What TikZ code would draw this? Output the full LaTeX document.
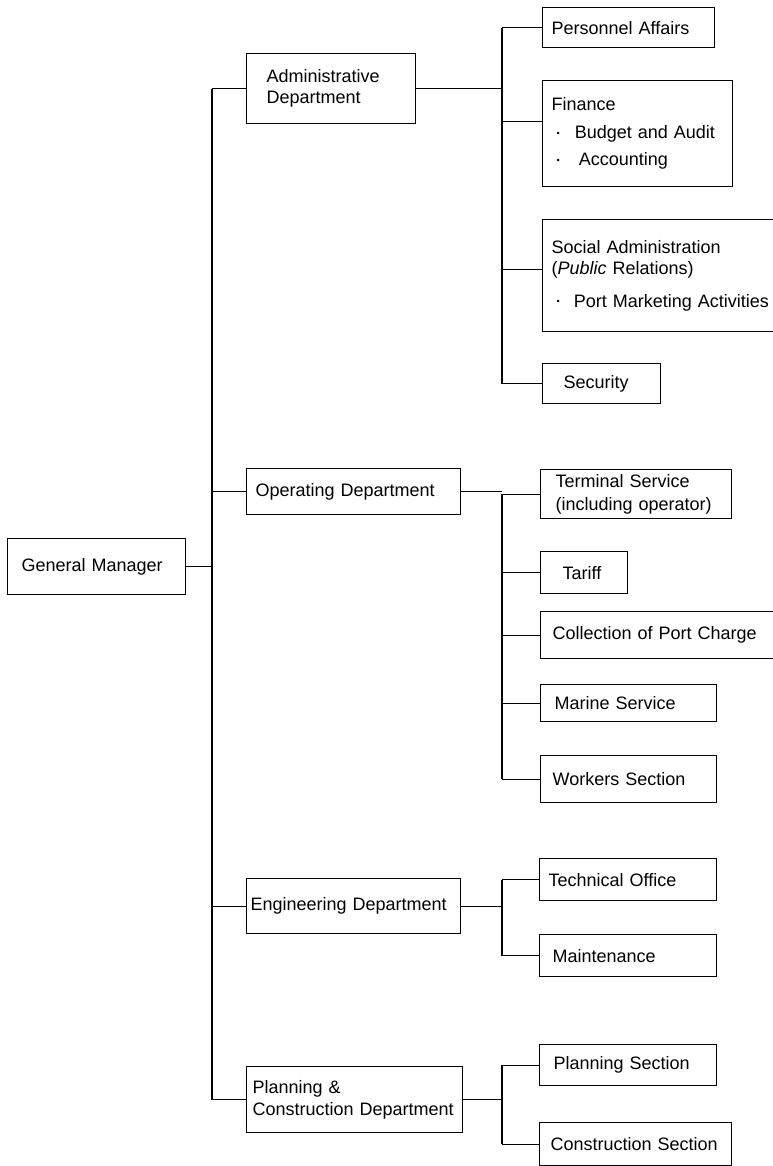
\documentclass[tikz,border=0pt]{standalone}
\usepackage{fontspec}
\setmainfont{Liberation Sans}
\usetikzlibrary{positioning,calc}
\newcommand{\itemdot}{\raisebox{2.5pt}{\fontsize{9}{9}\selectfont\textbullet}}

\begin{document}
\begin{tikzpicture}[x=1pt, y=-1pt, line width=1.2pt,
    block/.style={rectangle, draw, anchor=north west, align=left, inner ysep=2pt, font=\fontsize{18}{21}\selectfont}]
    \useasboundingbox (0,0) rectangle (772,1166);
    \fill[white] (0,0) rectangle (772,1166);

    \node [block, inner xsep=14pt, text width=150pt, minimum height=56pt] (manager) at (7,538) {General Manager};

    \node [block, inner xsep=20pt, text width=129pt, minimum height=70pt] (admin) at (246,53) {Administrative\\Department};
    \node [block, inner xsep=9pt, text width=196pt, minimum height=46pt] (operating) at (246,468) {Operating Department};
    \node [block, inner xsep=4pt, text width=206pt, minimum height=55pt] (engineering) at (246,878) {Engineering Department};
    \node [block, inner xsep=6pt, text width=204pt, minimum height=66pt] (planning) at (246,1066) {Planning \&\\[1pt]Construction Department};

    \node [block, inner xsep=9pt, text width=154pt, minimum height=40pt] (personnel) at (542,7) {Personnel Affairs};
    \node [block, inner xsep=9pt, text width=172pt, minimum height=106pt] (finance) at (542,80) {Finance\\[7pt]\hspace*{5pt}\itemdot\hspace{15pt}Budget and Audit\\[6pt]\hspace*{5pt}\itemdot\hspace{19pt}Accounting};
    \node [block, inner xsep=9pt, text width=222pt, minimum height=112pt] (social) at (542,219) {Social Administration\\(\textit{Public} Relations)\\[12pt]\hspace*{5pt}\itemdot\hspace{14pt}Port Marketing Activities};
    \node [block, inner xsep=21pt, text width=76pt, minimum height=40pt] (security) at (542,363) {Security};

    \node [block, inner xsep=15pt, text width=161pt, minimum height=49pt] (terminal) at (540,469) {Terminal Service\\[2pt](including operator)};
    \node [block, inner xsep=22pt, text width=43pt, minimum height=42pt] (tariff) at (540,551) {Tariff};
    \node [block, inner xsep=12pt, text width=216pt, minimum height=47pt] (collection) at (540,611) {Collection of Port Charge};
    \node [block, inner xsep=14pt, text width=148pt, minimum height=37pt] (marine) at (540,684) {Marine Service};
    \node [block, inner xsep=12pt, text width=152pt, minimum height=47pt] (workers) at (540,755) {Workers Section};

    \node [block, inner xsep=9pt, text width=159pt, minimum height=42pt] (technical) at (539,858) {Technical Office};
    \node [block, inner xsep=13pt, text width=151pt, minimum height=42pt] (maintenance) at (539,934) {Maintenance};

    \node [block, inner xsep=14pt, text width=149pt, minimum height=41pt] (plansec) at (539,1044) {Planning Section};
    \node [block, inner xsep=11pt, text width=170pt, minimum height=43pt] (constsec) at (539,1122) {Construction Section};

    \coordinate (trunk) at (212,0);
    \coordinate (bus) at (502,0);

    \draw (manager.east) -- (manager.east -| trunk);
    \draw (admin.west -| trunk) -- (planning.west -| trunk);
    \foreach \dept in {admin,operating,engineering,planning}
        \draw (\dept.west) -- (\dept.west -| trunk);

    \draw (admin.east) -- (admin.east -| bus);
    \draw (personnel.west -| bus) -- (security.west -| bus);
    \draw ([yshift=12pt]finance.west) -- ([yshift=12pt]finance.west -| bus);
    \draw ([yshift=6pt]social.west) -- ([yshift=6pt]social.west -| bus);
    \foreach \unit in {personnel,security}
        \draw (\unit.west) -- (\unit.west -| bus);

    \draw (operating.east) -- (operating.east -| bus);
    \draw (terminal.west -| bus) -- (workers.west -| bus);
    \foreach \unit in {terminal,tariff,collection,marine,workers}
        \draw (\unit.west) -- (\unit.west -| bus);

    \draw (engineering.east) -- (engineering.east -| bus);
    \draw (technical.west -| bus) -- (maintenance.west -| bus);
    \foreach \unit in {technical,maintenance}
        \draw (\unit.west) -- (\unit.west -| bus);

    \draw (planning.east) -- (planning.east -| bus);
    \draw (plansec.west -| bus) -- (constsec.west -| bus);
    \foreach \unit in {plansec,constsec}
        \draw (\unit.west) -- (\unit.west -| bus);
\end{tikzpicture}
\end{document}
